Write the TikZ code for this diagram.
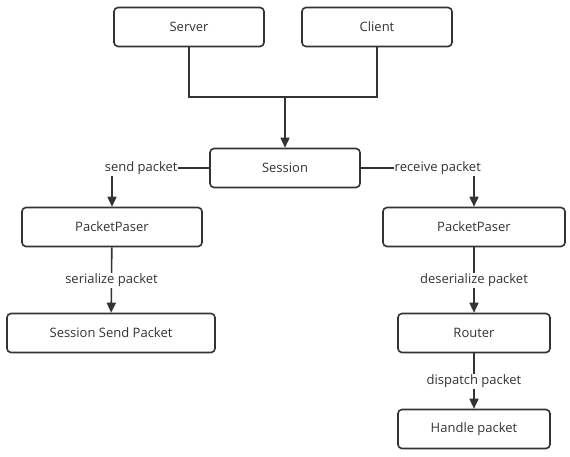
\documentclass[tikz,border=0pt]{standalone}
\usepackage{fontspec}
\setmainfont{Open Sans}
\usetikzlibrary{positioning,arrows.meta}
\definecolor{linecolor}{RGB}{51,51,51}
\tikzset{
  flowbox/.style={
    draw=linecolor, fill=white, rounded corners=4pt, line width=1.6pt,
    minimum height=39pt, inner sep=0pt,
    font=\fontsize{13}{15}\selectfont, text=linecolor, align=center
  },
  flowline/.style={
    line width=1.6pt, draw=linecolor
  },
  flowarrow/.style={
    -{Triangle[length=10pt,width=9pt]}, line width=1.6pt, draw=linecolor
  },
  edgelabel/.style={
    fill=white, inner sep=1pt, font=\fontsize{13}{15}\selectfont, text=linecolor
  }
}
\begin{document}
\begin{tikzpicture}[x=1pt, y=-1pt]
  \useasboundingbox (0,0) rectangle (570,456);
  % top row
  \node[flowbox, minimum width=150pt] (server) at (189,27) {Server};
  \node[flowbox, minimum width=150pt] (client) at (377,27) {Client};
  \node[flowbox, minimum width=150pt] (session) at (285,168) {Session};
  % send side
  \node[flowbox, minimum width=180pt] (sendpaser) at (112,227) {PacketPaser};
  \node[flowbox, minimum width=208pt] (sendpkt) at (111,333) {Session Send Packet};
  % receive side
  \node[flowbox, minimum width=182pt] (recvpaser) at (474,227) {PacketPaser};
  \node[flowbox, minimum width=152pt] (router) at (474,333) {Router};
  \node[flowbox, minimum width=152pt] (handle) at (474,429) {Handle packet};

  \coordinate (join) at (285,97);
  \draw[flowline] (server.south) |- (join) -| (client.south);
  \draw[flowarrow] (join) -- (session.north);

  \draw[flowarrow] (session.west) -| node[edgelabel, pos=0.35] {send packet} (sendpaser.north);
  \draw[flowarrow] (sendpaser) -- node[edgelabel] {serialize packet} (sendpkt);

  \draw[flowarrow] (session.east) -| node[edgelabel, pos=0.34] {receive packet} (recvpaser.north);
  \draw[flowarrow] (recvpaser) -- node[edgelabel] {deserialize packet} (router);
  \draw[flowarrow] (router) -- node[edgelabel] {dispatch packet} (handle);
\end{tikzpicture}
\end{document}
